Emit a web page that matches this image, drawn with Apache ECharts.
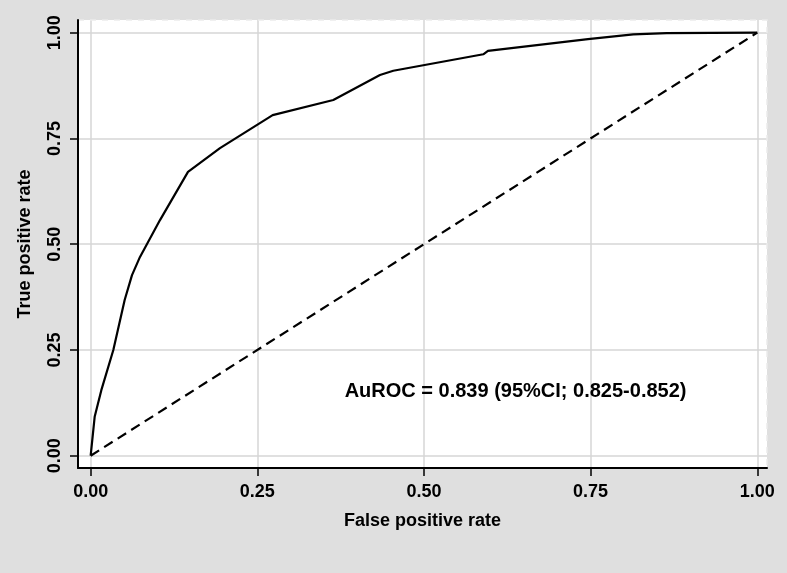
<!DOCTYPE html>
<html>
<head>
	<meta charset="UTF-8">
	<title>ROC curve</title>
	<script src="https://cdn.jsdelivr.net/npm/echarts@6/dist/echarts.min.js"></script>
	<style>
		html, body { margin:0; padding:0; background:#dfdfdf; }
		#canvas { width:787px; height:573px; }
	</style>
</head>
<body>
	<div id="canvas"></div>
<script type="text/javascript">
	// roc points
	var fpr = [0, 0.006, 0.016, 0.034, 0.051, 0.062, 0.074, 0.104, 0.146, 0.194, 0.273, 0.364, 0.434, 0.454, 0.589, 0.596, 0.746, 0.814, 0.864, 1];
	var tpr = [0, 0.092, 0.155, 0.250, 0.368, 0.427, 0.470, 0.557, 0.671, 0.727, 0.805, 0.841, 0.900, 0.910, 0.949, 0.957, 0.985, 0.996, 0.999, 1];
	var refX = [0, 1];
	var refY = [0, 1];
	var ticks = [0, 0.25, 0.5, 0.75, 1];
	var annoText = 'AuROC = 0.839 (95%CI; 0.825-0.852)';
	var annoPos = [0.381, 0.153];

	var font = 'Liberation Sans, Arial, Helvetica, sans-serif';
	var rocData = fpr.map(function (v, i) { return [v, tpr[i]]; });
	var refData = refX.map(function (v, i) { return [v, refY[i]]; });

	var myChart = echarts.init(document.getElementById("canvas"));

	function axisCommon(name, isY) {
		return {
			type: 'value',
			name: name,
			nameLocation: 'middle',
			nameGap: 44,
			nameTextStyle: { fontFamily: font, fontSize: 18, fontWeight: 'bold', color: '#000' },
			min: isY ? -0.029 : -0.019,
			max: isY ? 1.030 : 1.0146,
			axisLine: { show: true, onZero: false, lineStyle: { color: '#000', width: 2 } },
			axisTick: { show: true, length: 8, customValues: ticks, lineStyle: { color: '#000', width: 1.5 } },
			axisLabel: {
				customValues: ticks,
				rotate: isY ? 90 : 0,
				margin: isY ? 14 : 15,
				fontFamily: font,
				fontSize: 18,
				fontWeight: 'bold',
				color: '#000',
				formatter: function (v) { return v.toFixed(2); }
			},
			splitLine: { show: true, lineStyle: { color: '#d6d6d6', width: 1.5 } }
		};
	}

	option = {
		backgroundColor: '#dfdfdf',
		animation: false,
		grid: {
			left: 78, right: 20, top: 20, bottom: 105,
			show: true, backgroundColor: '#fff', borderWidth: 0
		},
		xAxis: axisCommon('False positive rate', false),
		yAxis: axisCommon('True positive rate', true),
		series: [
			{
				name: 'roc',
				type: 'line',
				data: rocData,
				symbol: 'none',
				lineStyle: { color: '#000', width: 2.2 }
			},
			{
				name: 'reference',
				type: 'line',
				data: refData,
				symbol: 'none',
				lineStyle: { color: '#000', width: 2.2, type: [10, 6] }
			}
		]
	};

	myChart.setOption(option);

	// annotation placed in data coordinates
	var p = myChart.convertToPixel({ gridIndex: 0 }, annoPos);
	myChart.setOption({
		graphic: [
			{
				type: 'rect',
				shape: { x: 78, y: 20, width: 689, height: 448 },
				style: { fill: 'none', stroke: '#ececec', lineWidth: 1.5, lineDash: [6, 6] },
				z: 0, silent: true
			},
			{
				type: 'text',
				x: p[0], y: p[1],
				style: {
					text: annoText,
					fontFamily: font,
					fontSize: 20,
					fontWeight: 'bold',
					fill: '#000',
					textAlign: 'left',
					textVerticalAlign: 'middle'
				}
			}
		]
	});
</script>
</body>
</html>
